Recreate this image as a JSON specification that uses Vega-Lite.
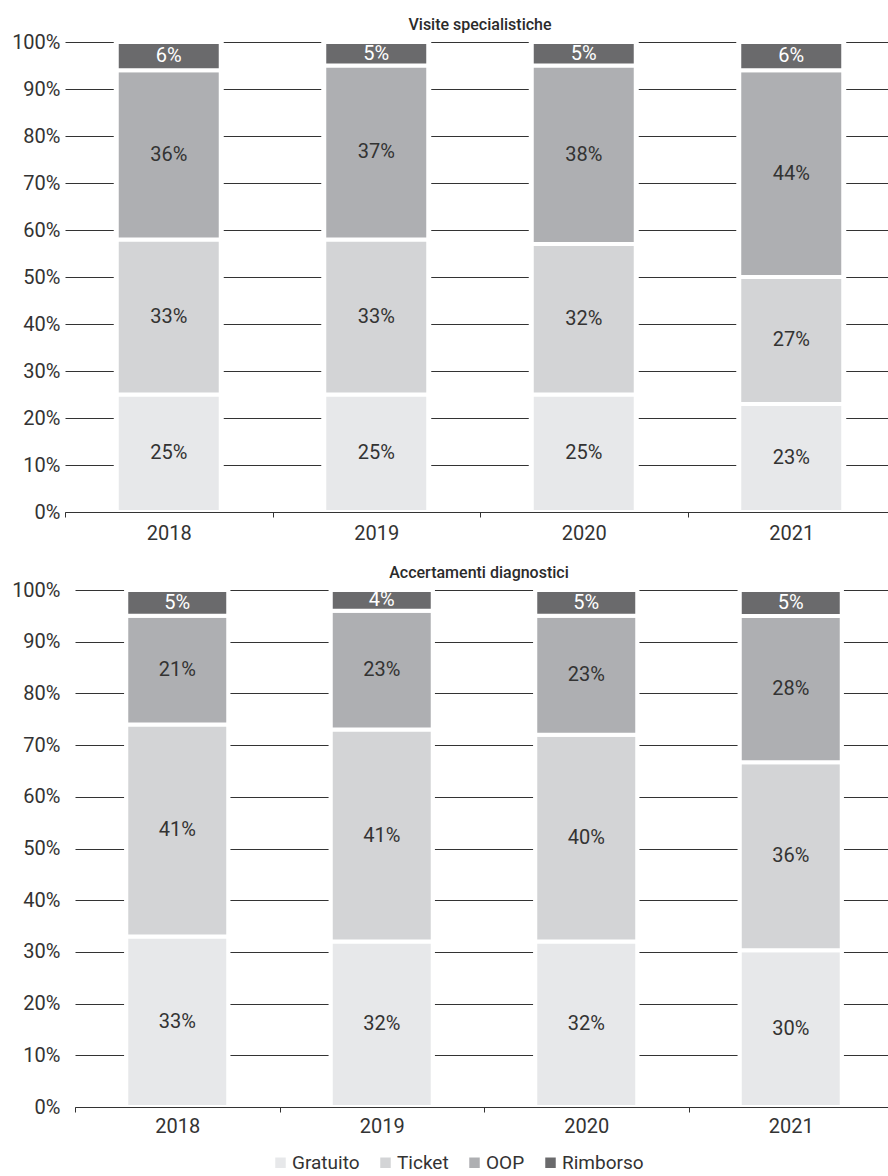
{
  "$schema": "https://vega.github.io/schema/vega-lite/v6.json",
  "background": "white",
  "padding": {"left": 11, "top": 17, "right": 0, "bottom": 0},
  "spacing": 22,
  "data": {
    "values": [
      {"pannello": "Visite specialistiche", "anno": "2018", "categoria": "Gratuito", "ordine": 1, "valore": 0.25},
      {"pannello": "Visite specialistiche", "anno": "2018", "categoria": "Ticket", "ordine": 2, "valore": 0.33},
      {"pannello": "Visite specialistiche", "anno": "2018", "categoria": "OOP", "ordine": 3, "valore": 0.36},
      {"pannello": "Visite specialistiche", "anno": "2018", "categoria": "Rimborso", "ordine": 4, "valore": 0.06},
      {"pannello": "Visite specialistiche", "anno": "2019", "categoria": "Gratuito", "ordine": 1, "valore": 0.25},
      {"pannello": "Visite specialistiche", "anno": "2019", "categoria": "Ticket", "ordine": 2, "valore": 0.33},
      {"pannello": "Visite specialistiche", "anno": "2019", "categoria": "OOP", "ordine": 3, "valore": 0.37},
      {"pannello": "Visite specialistiche", "anno": "2019", "categoria": "Rimborso", "ordine": 4, "valore": 0.05},
      {"pannello": "Visite specialistiche", "anno": "2020", "categoria": "Gratuito", "ordine": 1, "valore": 0.25},
      {"pannello": "Visite specialistiche", "anno": "2020", "categoria": "Ticket", "ordine": 2, "valore": 0.32},
      {"pannello": "Visite specialistiche", "anno": "2020", "categoria": "OOP", "ordine": 3, "valore": 0.38},
      {"pannello": "Visite specialistiche", "anno": "2020", "categoria": "Rimborso", "ordine": 4, "valore": 0.05},
      {"pannello": "Visite specialistiche", "anno": "2021", "categoria": "Gratuito", "ordine": 1, "valore": 0.23},
      {"pannello": "Visite specialistiche", "anno": "2021", "categoria": "Ticket", "ordine": 2, "valore": 0.27},
      {"pannello": "Visite specialistiche", "anno": "2021", "categoria": "OOP", "ordine": 3, "valore": 0.44},
      {"pannello": "Visite specialistiche", "anno": "2021", "categoria": "Rimborso", "ordine": 4, "valore": 0.06},
      {"pannello": "Accertamenti diagnostici", "anno": "2018", "categoria": "Gratuito", "ordine": 1, "valore": 0.33},
      {"pannello": "Accertamenti diagnostici", "anno": "2018", "categoria": "Ticket", "ordine": 2, "valore": 0.41},
      {"pannello": "Accertamenti diagnostici", "anno": "2018", "categoria": "OOP", "ordine": 3, "valore": 0.21},
      {"pannello": "Accertamenti diagnostici", "anno": "2018", "categoria": "Rimborso", "ordine": 4, "valore": 0.05},
      {"pannello": "Accertamenti diagnostici", "anno": "2019", "categoria": "Gratuito", "ordine": 1, "valore": 0.32},
      {"pannello": "Accertamenti diagnostici", "anno": "2019", "categoria": "Ticket", "ordine": 2, "valore": 0.41},
      {"pannello": "Accertamenti diagnostici", "anno": "2019", "categoria": "OOP", "ordine": 3, "valore": 0.23},
      {"pannello": "Accertamenti diagnostici", "anno": "2019", "categoria": "Rimborso", "ordine": 4, "valore": 0.04},
      {"pannello": "Accertamenti diagnostici", "anno": "2020", "categoria": "Gratuito", "ordine": 1, "valore": 0.32},
      {"pannello": "Accertamenti diagnostici", "anno": "2020", "categoria": "Ticket", "ordine": 2, "valore": 0.40},
      {"pannello": "Accertamenti diagnostici", "anno": "2020", "categoria": "OOP", "ordine": 3, "valore": 0.23},
      {"pannello": "Accertamenti diagnostici", "anno": "2020", "categoria": "Rimborso", "ordine": 4, "valore": 0.05},
      {"pannello": "Accertamenti diagnostici", "anno": "2021", "categoria": "Gratuito", "ordine": 1, "valore": 0.30},
      {"pannello": "Accertamenti diagnostici", "anno": "2021", "categoria": "Ticket", "ordine": 2, "valore": 0.36},
      {"pannello": "Accertamenti diagnostici", "anno": "2021", "categoria": "OOP", "ordine": 3, "valore": 0.28},
      {"pannello": "Accertamenti diagnostici", "anno": "2021", "categoria": "Rimborso", "ordine": 4, "valore": 0.05}
    ]
  },
  "config": {
    "font": "Roboto",
    "view": {"stroke": null},
    "axis": {
      "labelFont": "Roboto",
      "labelFontSize": 20,
      "labelColor": "#333333"
    },
    "title": {
      "font": "Roboto",
      "fontSize": 16,
      "fontWeight": 500,
      "color": "#2b2b2b",
      "anchor": "middle",
      "offset": -1
    },
    "legend": {
      "labelFont": "Roboto",
      "labelFontSize": 19,
      "labelColor": "#333333"
    }
  },
  "vconcat": [
    {
      "title": "Visite specialistiche",
      "width": 830,
      "height": 470,
      "transform": [{"filter": "datum.pannello === 'Visite specialistiche'"}],
      "encoding": {
        "x": {
          "field": "anno",
          "type": "nominal",
          "scale": {"paddingInner": 0, "paddingOuter": 0},
          "axis": {
            "title": null,
            "labelAngle": 0,
            "tickBand": "extent",
            "tickSize": 5,
            "tickColor": "#333333",
            "domainColor": "#333333",
            "labelPadding": 6,
            "zindex": 1
          }
        }
      },
      "layer": [
        {
          "mark": {"type": "bar", "width": 110, "color": "white"},
          "encoding": {
            "y": {"field": "valore", "type": "quantitative", "stack": "normalize", "scale": {"domain": [0, 1], "nice": false},
              "axis": {"title": null, "values": [0, 0.1, 0.2, 0.3, 0.4, 0.5, 0.6, 0.7, 0.8, 0.9, 1], "format": ".0%", "grid": true, "gridColor": "#333333", "gridWidth": 1, "domain": false, "ticks": false, "labelPadding": 5}},
            "detail": {"field": "categoria"},
            "order": {"field": "ordine", "type": "quantitative"}
          }
        },
        {
          "mark": {"type": "bar", "width": 104, "stroke": "white", "strokeWidth": 4},
          "encoding": {
            "y": {"field": "valore", "type": "quantitative", "stack": "normalize",
              "axis": {"title": null, "values": [0, 0.1, 0.2, 0.3, 0.4, 0.5, 0.6, 0.7, 0.8, 0.9, 1], "format": ".0%", "grid": true, "gridColor": "#333333", "gridWidth": 1, "domain": false, "ticks": false, "labelPadding": 5}},
            "color": {
              "field": "categoria",
              "type": "nominal",
              "scale": {"domain": ["Gratuito", "Ticket", "OOP", "Rimborso"], "range": ["#e7e8ea", "#d3d4d6", "#aeafb2", "#6a6a6c"]},
              "legend": {"orient": "none", "legendX": 206, "legendY": 1111, "direction": "horizontal", "title": null, "symbolType": "square", "symbolSize": 110, "symbolStrokeWidth": 0, "columnPadding": 16, "labelOffset": 2}
            },
            "order": {"field": "ordine", "type": "quantitative"}
          }
        },
        {
          "mark": {"type": "text", "fontSize": 20, "baseline": "middle"},
          "encoding": {
            "y": {"field": "valore", "type": "quantitative", "stack": "normalize", "bandPosition": 0.5,
              "axis": {"title": null, "values": [0, 0.1, 0.2, 0.3, 0.4, 0.5, 0.6, 0.7, 0.8, 0.9, 1], "format": ".0%", "grid": true, "gridColor": "#333333", "gridWidth": 1, "domain": false, "ticks": false, "labelPadding": 5}},
            "detail": {"field": "categoria"},
            "order": {"field": "ordine", "type": "quantitative"},
            "text": {"field": "valore", "type": "quantitative", "format": ".0%"},
            "color": {"condition": {"test": "datum.categoria === 'Rimborso'", "value": "white"}, "value": "#333333"}
          }
        }
      ]
    },
    {
      "title": "Accertamenti diagnostici",
      "width": 828,
      "height": 517,
      "transform": [{"filter": "datum.pannello === 'Accertamenti diagnostici'"}],
      "encoding": {
        "x": {
          "field": "anno",
          "type": "nominal",
          "scale": {"range": [10, 828], "paddingInner": 0, "paddingOuter": 0},
          "axis": {
            "title": null,
            "labelAngle": 0,
            "tickBand": "extent",
            "tickSize": 5,
            "tickColor": "#333333",
            "domainColor": "#333333",
            "labelPadding": 4,
            "zindex": 1
          }
        }
      },
      "layer": [
        {
          "mark": {"type": "bar", "width": 106, "color": "white"},
          "encoding": {
            "y": {"field": "valore", "type": "quantitative", "stack": "normalize", "scale": {"domain": [0, 1], "nice": false},
              "axis": {"title": null, "values": [0, 0.1, 0.2, 0.3, 0.4, 0.5, 0.6, 0.7, 0.8, 0.9, 1], "format": ".0%", "grid": true, "gridColor": "#333333", "gridWidth": 1, "domain": false, "ticks": false, "labelPadding": 5}},
            "detail": {"field": "categoria"},
            "order": {"field": "ordine", "type": "quantitative"}
          }
        },
        {
          "mark": {"type": "bar", "width": 102, "stroke": "white", "strokeWidth": 4},
          "encoding": {
            "y": {"field": "valore", "type": "quantitative", "stack": "normalize",
              "axis": {"title": null, "values": [0, 0.1, 0.2, 0.3, 0.4, 0.5, 0.6, 0.7, 0.8, 0.9, 1], "format": ".0%", "grid": true, "gridColor": "#333333", "gridWidth": 1, "domain": false, "ticks": false, "labelPadding": 5}},
            "color": {"field": "categoria", "type": "nominal"},
            "order": {"field": "ordine", "type": "quantitative"}
          }
        },
        {
          "mark": {"type": "text", "fontSize": 20, "baseline": "middle"},
          "encoding": {
            "y": {"field": "valore", "type": "quantitative", "stack": "normalize", "bandPosition": 0.5,
              "axis": {"title": null, "values": [0, 0.1, 0.2, 0.3, 0.4, 0.5, 0.6, 0.7, 0.8, 0.9, 1], "format": ".0%", "grid": true, "gridColor": "#333333", "gridWidth": 1, "domain": false, "ticks": false, "labelPadding": 5}},
            "detail": {"field": "categoria"},
            "order": {"field": "ordine", "type": "quantitative"},
            "text": {"field": "valore", "type": "quantitative", "format": ".0%"},
            "color": {"condition": {"test": "datum.categoria === 'Rimborso'", "value": "white"}, "value": "#333333"}
          }
        }
      ]
    }
  ]
}
